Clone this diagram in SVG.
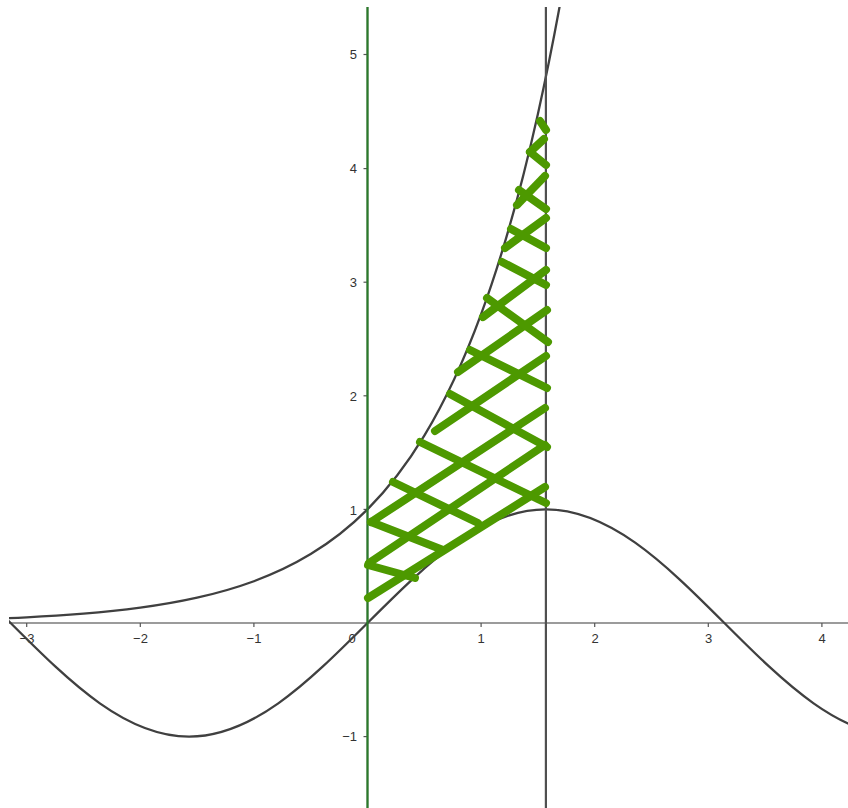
<svg xmlns="http://www.w3.org/2000/svg" width="848" height="808" viewBox="0 0 848 808">
<style>
.axis{stroke:#7a7a7a;stroke-width:1.6;fill:none}
.tick{stroke:#555;stroke-width:1.2}
.curve{stroke:#404040;stroke-width:2.3;fill:none;stroke-linejoin:round}
.vline{stroke:#505050;stroke-width:2.2}
.gline{stroke:#2a7a2a;stroke-width:2.2}
.hatch{stroke:#4d9900;stroke-width:8;stroke-linecap:round;fill:none}
.lbl{font-family:"Liberation Sans",Arial,sans-serif;font-size:13px;fill:#333;text-anchor:middle}
.lbly{font-family:"Liberation Sans",Arial,sans-serif;font-size:13px;fill:#333;text-anchor:end}
</style>
<defs>
<clipPath id="plot"><rect x="9" y="7" width="839" height="801"/></clipPath>
</defs>
<rect width="848" height="808" fill="#fff"/>
<g id="axes" clip-path="url(#plot)">
<line class="axis" x1="9" y1="623" x2="848" y2="623"/>
<line class="axis" x1="367.5" y1="7" x2="367.5" y2="808"/>
<g id="xticks">
<line class="tick" x1="26.7" y1="623" x2="26.7" y2="627"/>
<line class="tick" x1="140.3" y1="623" x2="140.3" y2="627"/>
<line class="tick" x1="253.9" y1="623" x2="253.9" y2="627"/>
<line class="tick" x1="481.1" y1="623" x2="481.1" y2="627"/>
<line class="tick" x1="594.7" y1="623" x2="594.7" y2="627"/>
<line class="tick" x1="708.3" y1="623" x2="708.3" y2="627"/>
<line class="tick" x1="821.9" y1="623" x2="821.9" y2="627"/>
</g>
<g id="yticks">
<line class="tick" x1="363.5" y1="54.5" x2="367.5" y2="54.5"/>
<line class="tick" x1="363.5" y1="168.6" x2="367.5" y2="168.6"/>
<line class="tick" x1="363.5" y1="282.2" x2="367.5" y2="282.2"/>
<line class="tick" x1="363.5" y1="395.8" x2="367.5" y2="395.8"/>
<line class="tick" x1="363.5" y1="509.4" x2="367.5" y2="509.4"/>
<line class="tick" x1="363.5" y1="736.6" x2="367.5" y2="736.6"/>
</g>
</g>
<g id="xlabels">
<text class="lbl" x="27" y="643">−3</text>
<text class="lbl" x="140.5" y="643">−2</text>
<text class="lbl" x="254" y="643">−1</text>
<text class="lbl" x="352" y="643">0</text>
<text class="lbl" x="481" y="643">1</text>
<text class="lbl" x="595" y="643">2</text>
<text class="lbl" x="708.5" y="643">3</text>
<text class="lbl" x="822" y="643">4</text>
</g>
<g id="ylabels">
<text class="lbly" x="357" y="59">5</text>
<text class="lbly" x="357" y="173">4</text>
<text class="lbly" x="357" y="286.5">3</text>
<text class="lbly" x="357" y="400.5">2</text>
<text class="lbly" x="357" y="514.5">1</text>
<text class="lbly" x="357" y="741">−1</text>
</g>
<g id="curves" clip-path="url(#plot)">
<path id="exp" class="curve" d="M-30.1,619.57 C-11.17,619.00 7.77,618.28 26.7,617.34 C45.63,616.40 64.57,615.23 83.5,613.68 C102.43,612.13 121.37,610.19 140.3,607.63 C159.23,605.07 178.17,601.88 197.1,597.65 C216.03,593.43 234.97,588.18 253.9,581.21 C272.83,574.25 291.77,565.58 310.7,554.10 C329.63,542.62 348.57,528.33 367.5,509.4 C386.43,490.47 405.37,466.93 424.3,435.71 C443.23,404.50 462.17,365.67 481.1,314.20 C500.03,262.74 518.97,198.73 537.9,113.88 C556.83,29.03 575.77,-76.50 594.7,-216.40"/>
<path id="sin" class="curve" d="M-78.6,542.67 C-48.86,563.70 -19.12,593.26 10.62,623 C40.36,652.74 70.10,682.30 99.84,703.33 C129.58,724.36 159.32,736.6 189.06,736.6 C218.80,736.6 248.54,724.36 278.28,703.33 C308.02,682.30 337.76,652.74 367.5,623 C397.24,593.26 426.98,563.70 456.72,542.67 C486.46,521.64 516.20,509.4 545.94,509.4 C575.68,509.4 605.42,521.64 635.16,542.67 C664.90,563.70 694.64,593.26 724.38,623 C754.12,652.74 783.86,682.30 813.60,703.33 C843.34,724.36 873.09,736.6 902.83,736.6"/>
<line id="xpi2" class="vline" x1="545.9" y1="7" x2="545.9" y2="808"/>
<line id="x0" class="gline" x1="367.5" y1="7" x2="367.5" y2="808"/>
</g>
<g id="hatching">
<line class="hatch" x1="368" y1="598" x2="545" y2="487"/>
<line class="hatch" x1="369" y1="563" x2="545" y2="445"/>
<line class="hatch" x1="371" y1="522" x2="545" y2="408"/>
<line class="hatch" x1="435" y1="431" x2="546" y2="356"/>
<line class="hatch" x1="458" y1="372" x2="547" y2="310"/>
<line class="hatch" x1="483" y1="317" x2="546" y2="270"/>
<line class="hatch" x1="505" y1="248" x2="546" y2="218"/>
<line class="hatch" x1="517" y1="205" x2="545" y2="176"/>
<line class="hatch" x1="530" y1="152" x2="544" y2="139"/>
<line class="hatch" x1="368" y1="565" x2="415" y2="578"/>
<line class="hatch" x1="371" y1="522" x2="443" y2="550"/>
<line class="hatch" x1="393" y1="482" x2="478" y2="523"/>
<line class="hatch" x1="420" y1="442" x2="546" y2="503"/>
<line class="hatch" x1="450" y1="394" x2="547" y2="447"/>
<line class="hatch" x1="470" y1="350" x2="547" y2="388"/>
<line class="hatch" x1="487" y1="298" x2="548" y2="342"/>
<line class="hatch" x1="502" y1="262" x2="546" y2="285"/>
<line class="hatch" x1="511" y1="229" x2="546" y2="248"/>
<line class="hatch" x1="519" y1="190" x2="546" y2="209"/>
<line class="hatch" x1="530" y1="152" x2="546" y2="165"/>
<line class="hatch" x1="540" y1="121" x2="546" y2="130"/>
</g>
</svg>
